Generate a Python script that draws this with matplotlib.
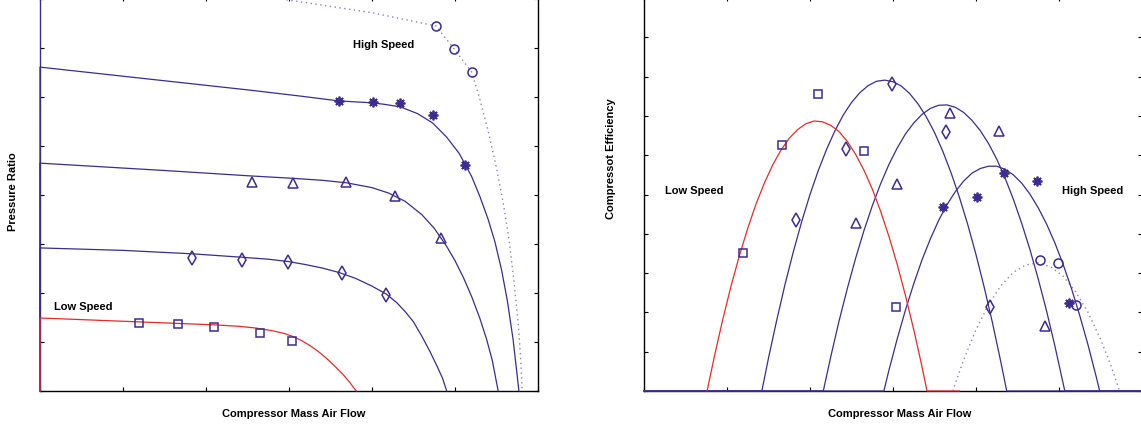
import numpy as np
import matplotlib
matplotlib.use('Agg')
import matplotlib.pyplot as plt

plt.rcParams['font.family'] = ['Liberation Sans', 'DejaVu Sans']

PURPLE = '#3d2b8e'
RED = '#e62a2a'
LIGHT = '#8a82c2'

# measured points, flow is shared between the two maps
flow_sq = [1.19, 1.66, 2.10, 2.65, 3.04]
flow_di = [1.83, 2.43, 2.99, 3.64, 4.17]
flow_tr = [2.55, 3.05, 3.69, 4.28, 4.83]
flow_st = [3.60, 4.01, 4.34, 4.73, 5.12]
flow_ci = [4.77, 4.99, 5.20]

pr_sq = [1.39, 1.37, 1.31, 1.18, 1.02]
pr_di = [2.71, 2.67, 2.63, 2.41, 1.96]
pr_tr = [4.27, 4.24, 4.27, 3.98, 3.12]
pr_st = [5.92, 5.90, 5.88, 5.63, 4.61]
pr_ci = [7.45, 6.98, 6.51]

eff_sq = [3.51, 6.26, 7.56, 6.11, 2.14]
eff_di = [4.35, 6.16, 7.81, 6.59, 2.14]
eff_tr = [4.27, 5.27, 7.07, 6.62, 1.65]
eff_st = [4.68, 4.94, 5.55, 5.34, 2.24]
eff_ci = [3.33, 3.26, 2.19]

# speed lines (pressure ratio)
pr_line1_x = [0, 0, 1.2, 2.1, 2.4, 2.6, 2.8, 2.95, 3.05, 3.15, 3.25, 3.35, 3.45, 3.55, 3.65, 3.73, 3.81]
pr_line1_y = [0, 1.49, 1.41, 1.35, 1.32, 1.285, 1.23, 1.17, 1.11, 1.03, 0.93, 0.81, 0.67, 0.51, 0.34, 0.18, 0]
pr_line2_x = [0, 0, 1.0, 1.83, 2.43, 2.75, 3.0, 3.2, 3.4, 3.6, 3.8, 4.0, 4.17, 4.3, 4.4, 4.5, 4.6, 4.7, 4.78, 4.85, 4.90]
pr_line2_y = [0, 2.92, 2.87, 2.80, 2.73, 2.69, 2.64, 2.58, 2.51, 2.42, 2.30, 2.14, 1.98, 1.80, 1.62, 1.41, 1.12, 0.80, 0.52, 0.26, 0]
pr_line3_x = [0, 0, 1.5, 2.53, 3.05, 3.4, 3.69, 4.0, 4.2, 4.4, 4.6, 4.75, 4.9, 5.0, 5.1, 5.2, 5.3, 5.38, 5.45, 5.52]
pr_line3_y = [0, 4.65, 4.50, 4.39, 4.34, 4.30, 4.25, 4.15, 4.04, 3.87, 3.60, 3.32, 2.95, 2.66, 2.32, 1.93, 1.48, 1.06, 0.62, 0]
pr_line4_x = [0, 0, 2.53, 3.13, 3.60, 4.01, 4.15, 4.34, 4.55, 4.73, 4.9, 5.05, 5.2, 5.3, 5.4, 5.48, 5.56, 5.63, 5.70, 5.77]
pr_line4_y = [0, 6.61, 6.14, 6.02, 5.92, 5.88, 5.85, 5.80, 5.66, 5.47, 5.18, 4.85, 4.38, 3.97, 3.50, 3.05, 2.48, 1.85, 1.05, 0]
pr_line5_x = [0, 2.99, 4.0, 4.77, 4.99, 5.20, 5.30, 5.40, 5.50, 5.58, 5.65, 5.71, 5.76, 5.79, 5.81]
pr_line5_y = [8.75, 7.98, 7.72, 7.45, 6.98, 6.51, 5.95, 5.30, 4.55, 3.85, 3.10, 2.25, 1.40, 0.70, 0]

# efficiency lines
eff_line1_x = [0.76, 0.85, 0.95, 1.05, 1.15, 1.25, 1.35, 1.45, 1.55, 1.65, 1.75, 1.85, 1.95, 2.05, 2.15,
               2.25, 2.35, 2.45, 2.55, 2.65, 2.75, 2.85, 2.95, 3.05, 3.15, 3.25, 3.34, 3.41, 3.8]
eff_line1_y = [0, 0.90, 1.83, 2.68, 3.45, 4.14, 4.76, 5.29, 5.75, 6.13, 6.43, 6.65, 6.80, 6.87, 6.85,
               6.76, 6.60, 6.35, 6.02, 5.62, 5.14, 4.58, 3.94, 3.23, 2.43, 1.56, 0.71, 0, 0]
eff_line2_x = [0, 1.42, 1.5, 1.6, 1.7, 1.8, 1.9, 2.0, 2.1, 2.2, 2.3, 2.4, 2.5, 2.6, 2.7, 2.8, 2.9, 3.0,
               3.1, 3.2, 3.3, 3.4, 3.5, 3.6, 3.7, 3.8, 3.9, 4.0, 4.1, 4.2, 4.3, 4.37, 6.0]
eff_line2_y = [0, 0, 0.84, 1.81, 2.72, 3.55, 4.31, 5.00, 5.61, 6.15, 6.62, 7.02, 7.34, 7.59, 7.77, 7.88, 7.91, 7.87,
               7.76, 7.57, 7.31, 6.98, 6.58, 6.10, 5.55, 4.93, 4.24, 3.47, 2.63, 1.72, 0.73, 0, 0]
eff_line3_x = [0, 2.16, 2.25, 2.35, 2.45, 2.55, 2.65, 2.75, 2.85, 2.95, 3.05, 3.15, 3.25, 3.35, 3.45, 3.55, 3.65,
               3.75, 3.85, 3.95, 4.05, 4.15, 4.25, 4.35, 4.45, 4.55, 4.65, 4.75, 4.85, 4.95, 5.07, 6.0]
eff_line3_y = [0, 0, 0.87, 1.78, 2.61, 3.38, 4.08, 4.71, 5.27, 5.76, 6.18, 6.54, 6.82, 7.04, 7.19, 7.27, 7.28,
               7.22, 7.09, 6.89, 6.63, 6.30, 5.90, 5.42, 4.88, 4.27, 3.60, 2.85, 2.04, 1.15, 0, 0]
eff_line4_x = [0, 2.89, 2.95, 3.05, 3.15, 3.25, 3.35, 3.45, 3.55, 3.65, 3.75, 3.85, 3.95, 4.05, 4.15, 4.25,
               4.35, 4.45, 4.55, 4.65, 4.75, 4.85, 4.95, 5.05, 5.15, 5.25, 5.35, 5.45, 5.49, 6.0]
eff_line4_y = [0, 0, 0.52, 1.32, 2.06, 2.73, 3.34, 3.87, 4.34, 4.74, 5.07, 5.34, 5.54, 5.66, 5.72, 5.72,
               5.64, 5.50, 5.29, 5.01, 4.66, 4.25, 3.77, 3.22, 2.61, 1.92, 1.17, 0.35, 0, 0]
eff_line5_x = [3.72, 3.85, 4.0, 4.15, 4.3, 4.45, 4.6, 4.75, 4.9, 5.05, 5.2, 5.35, 5.5, 5.62, 5.73]
eff_line5_y = [0, 0.79, 1.56, 2.19, 2.68, 3.02, 3.21, 3.26, 3.16, 2.92, 2.53, 2.00, 1.32, 0.68, 0]

mk = dict(linestyle='none', mfc='none', mec=PURPLE, zorder=4, clip_on=False)


def style_axes(ax, ymax):
    ax.set_xlim(0, 6)
    ax.set_ylim(0, ymax)
    ax.set_xticks(np.arange(0, 7))
    ax.set_yticks(np.arange(0, ymax + 1))
    ax.tick_params(direction='in', length=3, width=0.8, top=True, right=True,
                   labelbottom=False, labelleft=False)
    for s in ax.spines.values():
        s.set_linewidth(1.0)


def markers(ax, ysq, ydi, ytr, yst, yci):
    ax.plot(flow_sq, ysq, marker='s', ms=5.5, mew=1.1, **mk)
    ax.plot(flow_di, ydi, marker='d', ms=7.5, mew=1.1, **mk)
    ax.plot(flow_tr, ytr, marker='^', ms=7, mew=1.1, **mk)
    ax.plot(flow_st, yst, marker=(8, 2, 0), ms=7, mew=1.3, **mk)
    ax.plot(flow_ci, yci, marker='o', ms=6.5, mew=1.1, **mk)


fig = plt.figure(figsize=(11.41, 4.30), dpi=100)
ax1 = fig.add_axes([40 / 1141, 39 / 430, 498 / 1141, 394 / 430])
ax1.set_ylim(0, 8)
ax2 = fig.add_axes([644 / 1141, 39 / 430, 498 / 1141, 394 / 430])

# ---- pressure ratio map
style_axes(ax1, 8)
ax1.set_ylim(0, 8 * 394 / 392)
ax1.spines['left'].set_color(PURPLE)
ax1.plot(pr_line5_x, pr_line5_y, color=LIGHT, lw=1.0, ls=(0, (1, 2.5)), zorder=3)
for lx, ly in [(pr_line4_x, pr_line4_y), (pr_line3_x, pr_line3_y), (pr_line2_x, pr_line2_y)]:
    ax1.plot(lx, ly, color=PURPLE, lw=0.9, zorder=3, clip_on=False)
ax1.plot(pr_line1_x, pr_line1_y, color=RED, lw=0.9, zorder=3, clip_on=False)
markers(ax1, pr_sq, pr_di, pr_tr, pr_st, pr_ci)
ax1.text(4.14, 7.06, 'High Speed', ha='center', va='center', fontsize=8, fontweight='bold')
ax1.text(0.52, 1.71, 'Low Speed', ha='center', va='center', fontsize=8, fontweight='bold')
ax1.text(0.51, -0.059, 'Compressor Mass Air Flow', transform=ax1.transAxes,
         ha='center', va='center', fontsize=8, fontweight='bold')
ax1.text(-0.054, 0.505, 'Pressure Ratio', transform=ax1.transAxes, rotation=90,
         ha='center', va='center', fontsize=8, fontweight='bold')

# ---- efficiency map
style_axes(ax2, 10)
ax2.set_ylim(0, 10 * 394 / 393)
ax2.plot(eff_line5_x, eff_line5_y, color=LIGHT, lw=1.0, ls=(0, (1, 2.5)), zorder=3)
for lx, ly in [(eff_line4_x, eff_line4_y), (eff_line3_x, eff_line3_y), (eff_line2_x, eff_line2_y)]:
    ax2.plot(lx, ly, color=PURPLE, lw=0.9, zorder=3, clip_on=False)
ax2.plot(eff_line1_x, eff_line1_y, color=RED, lw=0.9, zorder=3, clip_on=False)
markers(ax2, eff_sq, eff_di, eff_tr, eff_st, eff_ci)
ax2.text(0.61, 5.09, 'Low Speed', ha='center', va='center', fontsize=8, fontweight='bold')
ax2.text(5.40, 5.09, 'High Speed', ha='center', va='center', fontsize=8, fontweight='bold')
ax2.text(0.514, -0.059, 'Compressor Mass Air Flow', transform=ax2.transAxes,
         ha='center', va='center', fontsize=8, fontweight='bold')
ax2.text(-0.066, 0.59, 'Compressot Efficiency', transform=ax2.transAxes, rotation=90,
         ha='center', va='center', fontsize=8, fontweight='bold')

fig.savefig('out.png', dpi=100)
